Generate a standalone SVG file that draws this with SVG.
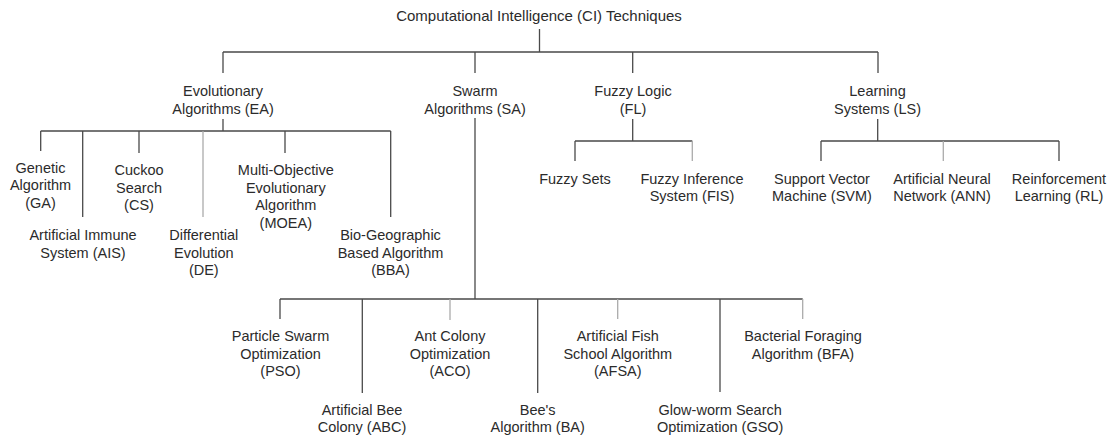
<svg xmlns="http://www.w3.org/2000/svg" width="1112" height="439" viewBox="0 0 1112 439">
<style>
text{font-family:"Liberation Sans",Arial,sans-serif;font-size:14.5px;fill:#2b2b2b;text-anchor:middle}
.title{font-size:15px}
.c{fill:none;stroke:#4a4a4a;stroke-width:1.3}
.l{fill:none;stroke:#ababab;stroke-width:1.3}
</style>
<rect width="1112" height="439" fill="#fff"/>
<g id="connectors">
<path class="c" d="M539.5 29V52M223 52H878M223 52V73M475 52V73M632.7 52V73M878 52V73"/>
<path class="c" d="M223 119V131M40.7 131H390.7M40.7 131V151M82.7 131V217M139 131V153M285 131V153M390.7 131V217"/>
<path class="l" d="M203 131V217"/>
<path class="c" d="M475 118V299M280 299H802.7M280 299V319M362.3 299V393M537.7 299V393M720 299V392"/>
<path class="l" d="M450 299V320M617.7 299V319M802.7 299V319"/>
<path class="c" d="M632.7 119V141M575 141H692.3M575 141V161"/>
<path class="l" d="M692.3 141V161"/>
<path class="c" d="M877.7 119V141M821 141H1059M821 141V161M1059 141V161"/>
<path class="l" d="M943.3 141V161"/>
</g>
<g id="root"><text class="title" x="539" y="21">Computational Intelligence (CI) Techniques</text></g>
<g id="ea"><text x="223" y="96">Evolutionary</text><text x="223" y="114">Algorithms (EA)</text></g>
<g id="sa"><text x="475" y="96">Swarm</text><text x="475" y="114">Algorithms (SA)</text></g>
<g id="fl"><text x="633" y="96">Fuzzy Logic</text><text x="633" y="114">(FL)</text></g>
<g id="ls"><text x="877.5" y="96">Learning</text><text x="877.5" y="114">Systems (LS)</text></g>
<g id="ga"><text x="40.5" y="172.5">Genetic</text><text x="40.5" y="190">Algorithm</text><text x="40.5" y="207.5">(GA)</text></g>
<g id="ais"><text x="83" y="239.5">Artificial Immune</text><text x="83" y="257.5">System (AIS)</text></g>
<g id="cs"><text x="139" y="175">Cuckoo</text><text x="139" y="192.5">Search</text><text x="139" y="210">(CS)</text></g>
<g id="de"><text x="203.8" y="240">Differential</text><text x="203.8" y="257.5">Evolution</text><text x="203.8" y="275">(DE)</text></g>
<g id="moea"><text x="285.8" y="175">Multi-Objective</text><text x="285.8" y="192.5">Evolutionary</text><text x="285.8" y="210">Algorithm</text><text x="285.8" y="227.5">(MOEA)</text></g>
<g id="bba"><text x="390.5" y="239.5">Bio-Geographic</text><text x="390.5" y="257.5">Based Algorithm</text><text x="390.5" y="275">(BBA)</text></g>
<g id="fs"><text x="575" y="183.5">Fuzzy Sets</text></g>
<g id="fis"><text x="692" y="183.5">Fuzzy Inference</text><text x="692" y="201">System (FIS)</text></g>
<g id="svm"><text x="822" y="183.5">Support Vector</text><text x="822" y="201">Machine (SVM)</text></g>
<g id="ann"><text x="942" y="183.5">Artificial Neural</text><text x="942" y="201">Network (ANN)</text></g>
<g id="rl"><text x="1059" y="183.5">Reinforcement</text><text x="1059" y="201">Learning (RL)</text></g>
<g id="pso"><text x="280.5" y="341">Particle Swarm</text><text x="280.5" y="358.5">Optimization</text><text x="280.5" y="376">(PSO)</text></g>
<g id="abc"><text x="362" y="414.5">Artificial Bee</text><text x="362" y="432">Colony (ABC)</text></g>
<g id="aco"><text x="450" y="341">Ant Colony</text><text x="450" y="358.5">Optimization</text><text x="450" y="376">(ACO)</text></g>
<g id="ba"><text x="537.7" y="414.5">Bee's</text><text x="537.7" y="432">Algorithm (BA)</text></g>
<g id="afsa"><text x="617.8" y="341">Artificial Fish</text><text x="617.8" y="358.5">School Algorithm</text><text x="617.8" y="376">(AFSA)</text></g>
<g id="gso"><text x="720.2" y="414.5">Glow-worm Search</text><text x="720.2" y="432">Optimization (GSO)</text></g>
<g id="bfa"><text x="803" y="341">Bacterial Foraging</text><text x="803" y="358.5">Algorithm (BFA)</text></g>
</svg>
